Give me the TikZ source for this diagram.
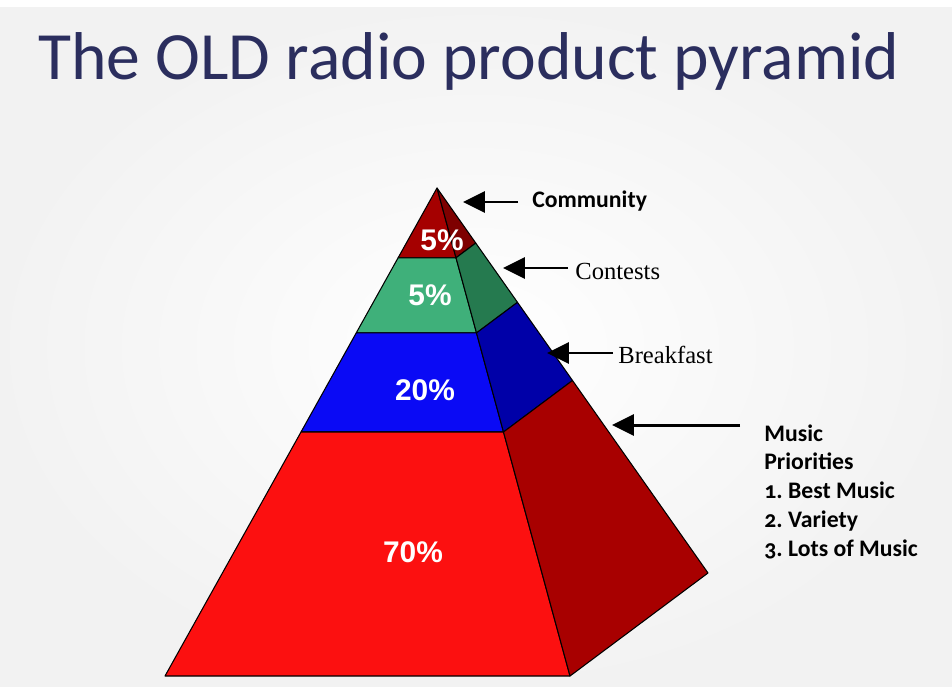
\documentclass[tikz,border=0pt]{standalone}
\usepackage{fontspec}
\setmainfont{Carlito}
\newfontfamily\arialfont{Liberation Sans}
\newfontfamily\timesfont{Liberation Serif}
\usetikzlibrary{calc, arrows.meta, positioning}
\frenchspacing

\definecolor{titleblue}{HTML}{2B2E5E}
\definecolor{topfront}{HTML}{A50000}
\definecolor{topside}{HTML}{7E0000}
\definecolor{greenfront}{HTML}{3FB07A}
\definecolor{greenside}{HTML}{257A4F}
\definecolor{bluefront}{HTML}{0A0AF5}
\definecolor{blueside}{HTML}{0000A8}
\definecolor{redfront}{HTML}{FC1010}
\definecolor{redside}{HTML}{A80000}

\tikzset{
  face/.style={draw=black, line width=0.6pt, line join=round},
  pct/.style={text=white, font=\arialfont\bfseries\fontsize{17}{20}\selectfont},
  lbl/.style={anchor=base west, inner sep=0pt, font=\bfseries\addfontfeatures{Numbers=OldStyle}\fontsize{13.5}{16.4}\selectfont},
  tlbl/.style={anchor=base west, inner sep=0pt, font=\timesfont\fontsize{14}{16}\selectfont},
  pointer/.style={-{Triangle[length=12.5pt,width=12pt]}, line width=1.7pt}
}

\begin{document}
\begin{tikzpicture}[x=0.02cm, y=-0.02cm]
\useasboundingbox (0,0) rectangle (952,686);
\shade[inner color=white, outer color=black!5] (0,8) rectangle (952,686);

\node[anchor=base west, inner sep=0pt, text=titleblue, font=\fontsize{38.5}{42}\selectfont] (title) at (38,80) {The OLD radio product pyramid};

% corners of the pyramid
\coordinate (A) at (437,188);
\coordinate (L) at (165,676);
\coordinate (R) at (570,676);
\coordinate (K) at (708,573);

% band edges on the three lines from the apex
\coordinate (l1) at ($(A)!0.143!(L)$);
\coordinate (l2) at ($(A)!0.297!(L)$);
\coordinate (l3) at ($(A)!0.5!(L)$);
\coordinate (r1) at ($(A)!0.143!(R)$);
\coordinate (r2) at ($(A)!0.297!(R)$);
\coordinate (r3) at ($(A)!0.5!(R)$);
\coordinate (k1) at ($(A)!0.143!(K)$);
\coordinate (k2) at ($(A)!0.297!(K)$);
\coordinate (k3) at ($(A)!0.5!(K)$);

% front face
\filldraw[face, fill=topfront] (A) -- (l1) -- (r1) -- cycle;
\filldraw[face, fill=greenfront] (l1) -- (l2) -- (r2) -- (r1) -- cycle;
\filldraw[face, fill=bluefront] (l2) -- (l3) -- (r3) -- (r2) -- cycle;
\filldraw[face, fill=redfront] (l3) -- (L) -- (R) -- (r3) -- cycle;
% side face
\filldraw[face, fill=topside] (A) -- (r1) -- (k1) -- cycle;
\filldraw[face, fill=greenside] (r1) -- (r2) -- (k2) -- (k1) -- cycle;
\filldraw[face, fill=blueside] (r2) -- (r3) -- (k3) -- (k2) -- cycle;
\filldraw[face, fill=redside] (r3) -- (R) -- (K) -- (k3) -- cycle;

\node[pct] (pcommunity) at (442,240) {5\%};
\node[pct] (pcontests) at (430,295) {5\%};
\node[pct] (pbreakfast) at (425,390) {20\%};
\node[pct] (pmusic) at (413,552) {70\%};

% labels on the right
\node[lbl] (community) at (532,207) {Community};
\node[tlbl] (contests) at (575,279) {Contests};
\node[tlbl] (breakfast) at (618,363) {Breakfast};
\node[lbl, anchor=north west, align=left] (music) at (764,424) {Music\\Priorities\\1. Best Music\\2. Variety\\3. Lots of Music};

\coordinate (tcommunity) at (463,202);
\coordinate (tcontests) at (503,268);
\coordinate (tbreakfast) at (547,353);
\coordinate (tmusic) at (612,425);
\coordinate (smusic) at (740,425);

\draw[pointer] (518,202) -- (tcommunity);
\draw[pointer] (568,268) -- (tcontests);
\draw[pointer] (613,353) -- (tbreakfast);
\draw[pointer] (smusic) -- (tmusic);
\end{tikzpicture}
\end{document}
